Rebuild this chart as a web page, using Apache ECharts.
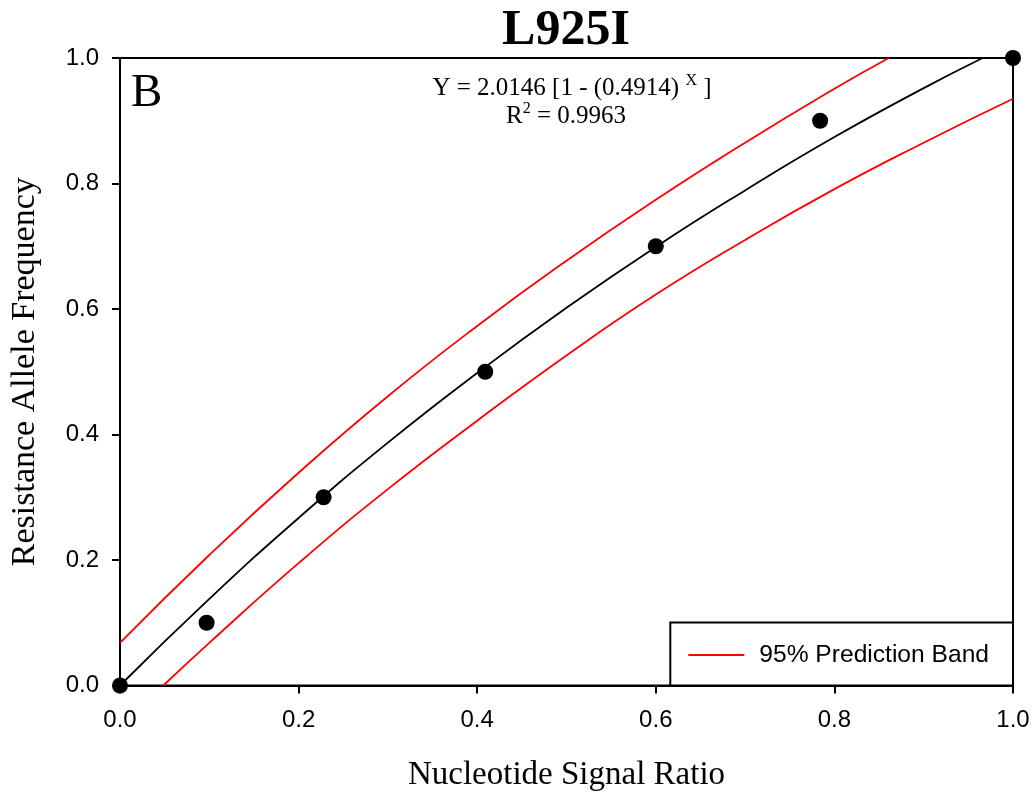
<!DOCTYPE html>
<html>
<head>
<meta charset="utf-8">
<script src="https://cdn.jsdelivr.net/npm/echarts@6/dist/echarts.min.js"></script>
<style>html,body{margin:0;padding:0;background:#fff}#c{width:1034px;height:798px}</style>
</head>
<body>
<div id="c"></div>
<script>
// Observed data points (x = nucleotide signal ratio, y = resistance allele frequency)
var obsX = [0, 0.097, 0.228, 0.409, 0.600, 0.784, 1.0];
var obsY = [0, 0.1, 0.3, 0.5, 0.7, 0.9, 1.0];
// Fitted curve
var fitX = [0, 0.1, 0.2, 0.3, 0.4, 0.5, 0.6, 0.7, 0.8, 0.9, 0.966];
var fitY = [0, 0.138, 0.267, 0.387, 0.498, 0.602, 0.699, 0.789, 0.874, 0.952, 1.0];
// Upper 95% prediction band
var upX = [0, 0.1, 0.2, 0.3, 0.4, 0.5, 0.6, 0.7, 0.8, 0.861];
var upY = [0.068, 0.208, 0.339, 0.461, 0.573, 0.677, 0.774, 0.865, 0.951, 1.0];
// Lower 95% prediction band
var loX = [0.0485, 0.1, 0.2, 0.3, 0.4, 0.5, 0.6, 0.7, 0.8, 0.9, 1.0];
var loY = [0, 0.068, 0.195, 0.313, 0.422, 0.526, 0.623, 0.710, 0.791, 0.865, 0.935];

function pairs(xs, ys){ return xs.map(function(x,i){ return [x, ys[i]]; }); }

var serif = '"Liberation Serif","Times New Roman",serif';
var sans = '"Liberation Sans",Arial,sans-serif';
var chart = echarts.init(document.getElementById('c'), null, {renderer:'canvas'});
chart.setOption({
  animation: false,
  backgroundColor: '#fff',
  grid: {left: 119, right: 21, top: 58, bottom: 112.5, show: true, borderColor: '#000', borderWidth: 2, backgroundColor: 'transparent'},
  xAxis: {
    type: 'value', min: 0, max: 1, interval: 0.2,
    name: 'Nucleotide Signal Ratio', nameLocation: 'middle', nameGap: 73,
    nameTextStyle: {fontFamily: serif, fontSize: 33, color: '#000'},
    axisLine: {show: true, lineStyle: {color: '#000', width: 2}},
    axisTick: {show: true, inside: false, length: 8, lineStyle: {color: '#000', width: 2}},
    axisLabel: {margin: 23, fontFamily: sans, fontSize: 24, color: '#000', formatter: function(v){ return v.toFixed(1); }},
    splitLine: {show: false}
  },
  yAxis: {
    type: 'value', min: 0, max: 1, interval: 0.2,
    name: 'Resistance Allele Frequency', nameLocation: 'middle', nameGap: 78,
    nameTextStyle: {fontFamily: serif, fontSize: 34, color: '#000'},
    axisLine: {show: true, lineStyle: {color: '#000', width: 2}},
    axisTick: {show: true, inside: false, length: 8, lineStyle: {color: '#000', width: 2}},
    axisLabel: {margin: 21, fontFamily: sans, fontSize: 24, color: '#000', formatter: function(v){ return v.toFixed(1); }},
    splitLine: {show: false}
  },
  legend: {
    right: 21, bottom: 112.5,
    data: ['95% Prediction Band'],
    icon: 'rect',
    padding: [20, 24, 18, 18],
    itemWidth: 56, itemHeight: 1.8,
    borderColor: '#000', borderWidth: 2, backgroundColor: '#fff',
    textStyle: {fontFamily: sans, fontSize: 24.6, lineHeight: 24, color: '#000', padding: [0,0,0,10]}
  },
  series: [
    {name: 'Fit', type: 'line', data: pairs(fitX, fitY), smooth: true, symbol: 'none', lineStyle: {color: '#000', width: 1.8}, z: 3},
    {name: '95% Prediction Band', type: 'line', data: pairs(upX, upY), smooth: true, symbol: 'none', color: '#ff0000', lineStyle: {color: '#ff0000', width: 1.8}, z: 3},
    {name: '95% Prediction Band', type: 'line', data: pairs(loX, loY), smooth: true, symbol: 'none', color: '#ff0000', lineStyle: {color: '#ff0000', width: 1.8}, z: 3},
    {name: 'Data', type: 'scatter', data: pairs(obsX, obsY), symbol: 'circle', symbolSize: 16, itemStyle: {color: '#000', opacity: 1}, z: 5, clip: false}
  ],
  graphic: [
    {type: 'text', x: 566, y: 31, style: {text: 'L925I', font: 'bold 50px ' + serif, fill: '#000', textAlign: 'center', textVerticalAlign: 'middle'}},
    {type: 'text', x: 131, y: 93.5, style: {text: 'B', font: '47px ' + serif, fill: '#000', textAlign: 'left', textVerticalAlign: 'middle'}},
    {type: 'text', x: 572, y: 88, style: {
      text: '{a|Y = 2.0146 [1 - (0.4914) }{s|X}{a| ]}',
      textAlign: 'center', textVerticalAlign: 'middle',
      rich: {a: {fontFamily: serif, fontSize: 25, color: '#000'}, s: {fontFamily: serif, fontSize: 16, color: '#000', padding: [0,0,14,0]}}
    }},
    {type: 'text', x: 566, y: 116, style: {
      text: '{a|R}{s|2}{a| = 0.9963}',
      textAlign: 'center', textVerticalAlign: 'middle',
      rich: {a: {fontFamily: serif, fontSize: 25, color: '#000'}, s: {fontFamily: serif, fontSize: 16, color: '#000', padding: [0,0,14,0]}}
    }}
  ]
});
</script>
</body>
</html>
